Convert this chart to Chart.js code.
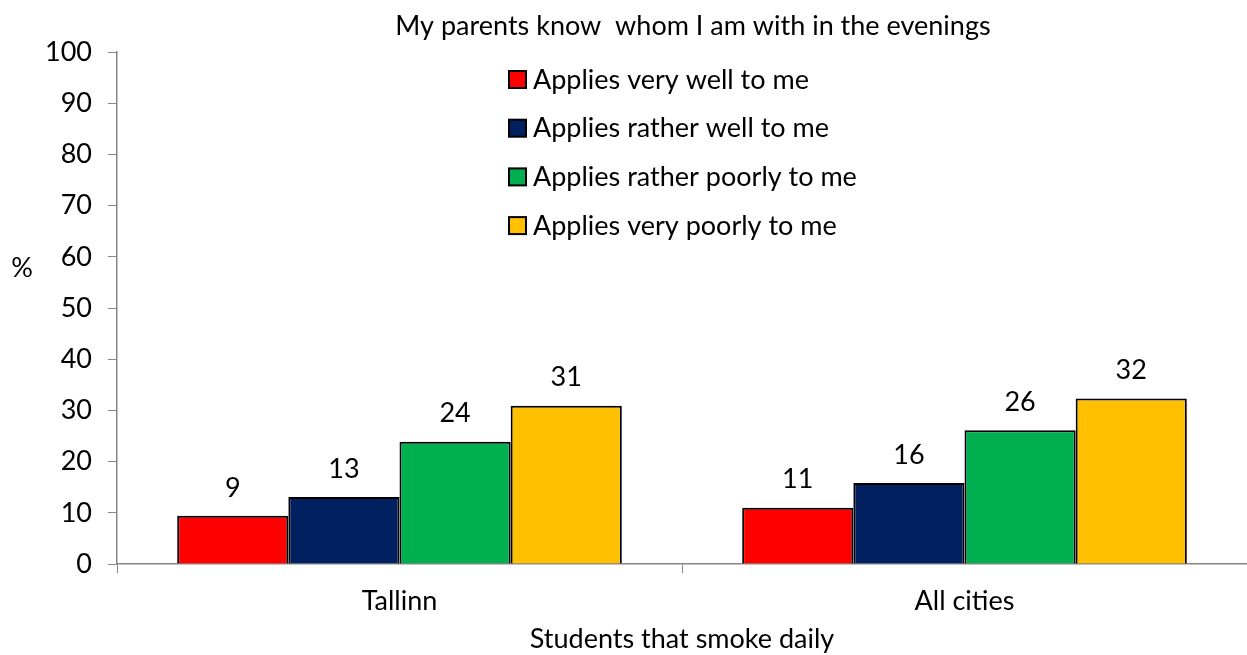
<!DOCTYPE html>
<html>
<head>
<meta charset="utf-8">
<script src="https://cdn.jsdelivr.net/npm/chart.js@4/dist/chart.umd.min.js"></script>
<style>
  html,body{margin:0;padding:0;background:#fff;overflow:hidden}
  #wrap{width:1247px;height:655px;position:relative}
</style>
</head>
<body>
<div id="wrap"><canvas id="c"></canvas></div>
<script>
const categories = ['Tallinn', 'All cities']
const seriesNames = ['Applies very well to me', 'Applies rather well to me', 'Applies rather poorly to me', 'Applies very poorly to me']
const veryWell = [9.4, 11.0]
const ratherWell = [13.1, 15.8]
const ratherPoorly = [23.9, 26.1]
const veryPoorly = [30.9, 32.3]
const yTicks = [0, 10, 20, 30, 40, 50, 60, 70, 80, 90, 100]
const colors = ['#FF0000', '#002060', '#00B050', '#FFC000']

const chartTitle = 'My parents know  whom I am with in the evenings'
const xTitle = 'Students that smoke daily'
const FONT = 'Lato, Carlito, Calibri, sans-serif'
const FS = 27
const AXIS = '#868686'

const extras = {
  id: 'extras',
  afterDraw(chart){
    const ctx = chart.ctx
    ctx.save()
    ctx.fillStyle = '#000'
    ctx.font = `${FS}px ${FONT}`
    ctx.textAlign = 'center'
    ctx.textBaseline = 'middle'
    ctx.fillText(chartTitle, 693, 26)
    ctx.fillText('%', 22, 268)
    // value labels
    chart.data.datasets.forEach((ds, i)=>{
      const meta = chart.getDatasetMeta(i)
      meta.data.forEach((bar, j)=>{
        ctx.fillText(String(Math.round(ds.data[j])), bar.x, bar.y - 28)
      })
    })
    // legend
    ctx.textAlign = 'left'
    chart.data.datasets.forEach((ds, i)=>{
      const y = 79 + i*48.7
      ctx.fillStyle = ds.backgroundColor
      ctx.fillRect(509, y-8, 17, 17)
      ctx.strokeStyle = '#000'
      ctx.lineWidth = 2
      ctx.strokeRect(509, y-8, 17, 17)
      ctx.fillStyle = '#000'
      ctx.fillText(ds.label, 533, y+1)
    })
    ctx.restore()
  }
}

const mk = (name, data, i) => ({
  label: name, data, backgroundColor: colors[i], borderColor: '#000', borderWidth: 2,
  barPercentage: 1, categoryPercentage: 0.787
})

new Chart(document.getElementById('c'), {
  type: 'bar',
  data: {
    labels: categories,
    datasets: [
      mk(seriesNames[0], veryWell, 0),
      mk(seriesNames[1], ratherWell, 1),
      mk(seriesNames[2], ratherPoorly, 2),
      mk(seriesNames[3], veryPoorly, 3)
    ]
  },
  options: {
    responsive: true,
    maintainAspectRatio: false,
    animation: false,
    layout: {padding: {top: 52, left: 0, right: 0, bottom: 0}},
    plugins: {legend: {display: false}, tooltip: {enabled: false}, title: {display: false}},
    scales: {
      x: {
        grid: {display: true, drawOnChartArea: false, offset: true, tickLength: 9, color: AXIS, lineWidth: 1},
        border: {color: AXIS, width: 1.5},
        ticks: {color: '#000', font: {family: FONT, size: FS}, padding: 12},
        title: {display: true, text: xTitle, color: '#000', font: {family: FONT, size: FS}, padding: {top: 6, bottom: 0}},
        afterFit(s){ s.height = 91 }
      },
      y: {
        min: 0, max: 100,
        afterBuildTicks(s){ s.ticks = yTicks.map(v=>({value: v})) },
        grid: {display: true, drawOnChartArea: false, tickLength: 9, color: AXIS},
        border: {color: AXIS, width: 1.5},
        ticks: {color: '#000', font: {family: FONT, size: FS}, padding: 16},
        afterFit(s){ s.width = 117 }
      }
    }
  },
  plugins: [extras]
})
</script>
</body>
</html>
